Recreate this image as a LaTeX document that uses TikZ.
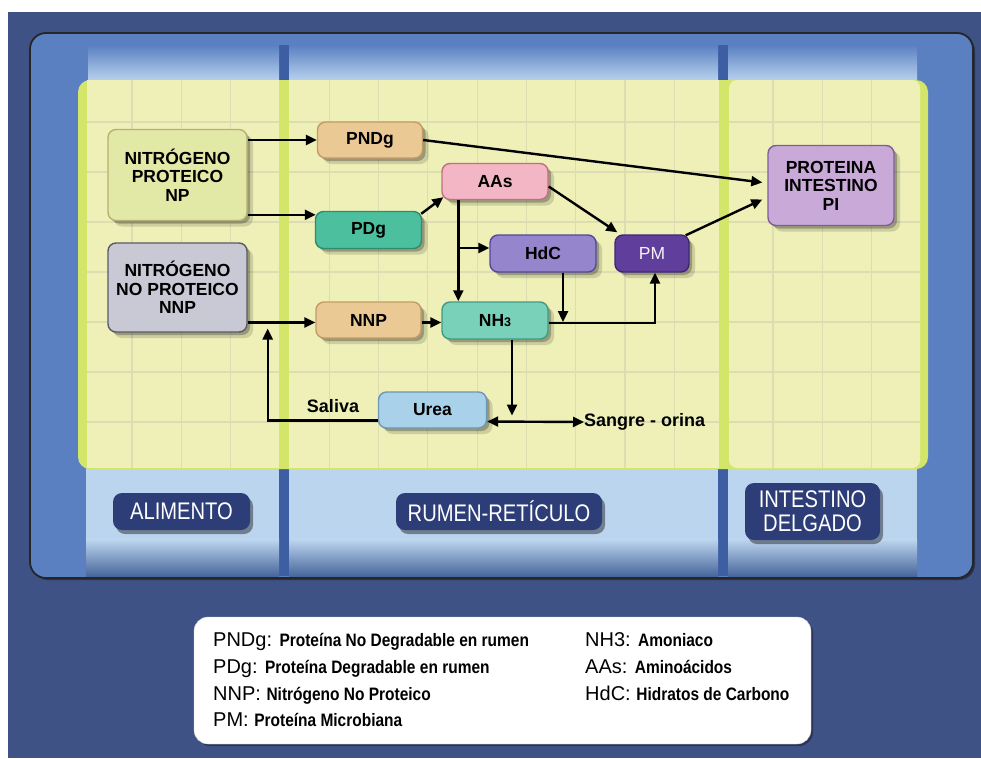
\documentclass[tikz,border=0pt]{standalone}
\usepackage{fontspec}
\setmainfont{Liberation Sans}
\newfontfamily\narrowfont[FakeStretch=0.84]{Liberation Sans}
\newfontfamily\legdesc[FakeStretch=0.86]{Liberation Sans}
\usetikzlibrary{shadows,arrows.meta,calc}
\definecolor{outerblue}{HTML}{3F5286}
\definecolor{panelblue}{HTML}{5A80C2}
\definecolor{gapblue}{HTML}{3E5EA4}
\definecolor{bandlight}{HTML}{BCD5EF}
\definecolor{yellowbg}{HTML}{EEF0B8}
\definecolor{yellowedge}{HTML}{D4E66A}
\definecolor{gridc}{HTML}{DCDEB2}
\definecolor{labelnavy}{HTML}{2D3D78}
\definecolor{npfill}{HTML}{E2E8A6}\definecolor{npdraw}{HTML}{B8B070}
\definecolor{nnpfill}{HTML}{C9C9D6}\definecolor{nnpdraw}{HTML}{5A5A66}
\definecolor{tanfill}{HTML}{EAC995}\definecolor{tandraw}{HTML}{C49A66}
\definecolor{pdgfill}{HTML}{4CBF9E}\definecolor{pdgdraw}{HTML}{2E8C70}
\definecolor{aasfill}{HTML}{F2B6C4}\definecolor{aasdraw}{HTML}{C46E86}
\definecolor{hdcfill}{HTML}{9485CC}\definecolor{hdcdraw}{HTML}{56479A}
\definecolor{pmfill}{HTML}{5F3E9C}\definecolor{pmdraw}{HTML}{3E2676}
\definecolor{pifill}{HTML}{C9A9D8}\definecolor{pidraw}{HTML}{7E5E98}
\definecolor{nhfill}{HTML}{79D1BA}\definecolor{nhdraw}{HTML}{3E9C84}
\definecolor{ureafill}{HTML}{A9D1E9}\definecolor{ureadraw}{HTML}{6E96B6}
\tikzset{
  softshadow/.style={drop shadow={shadow xshift=3pt,shadow yshift=-3pt,opacity=.25,fill=black},
                     drop shadow={shadow xshift=6pt,shadow yshift=-6pt,opacity=.14,fill=black}},
  nbox/.style={rounded corners=8pt,line width=1.4pt,align=center,inner sep=0pt,softshadow,
               font=\bfseries\fontsize{17.5}{18.5}\selectfont,text=black},
  lab/.style={rounded corners=9pt,fill=labelnavy,text=white,align=center,inner sep=0pt,
              drop shadow={shadow xshift=3pt,shadow yshift=-4pt,opacity=.4,fill=black},
              font=\narrowfont\fontsize{24}{24}\selectfont},
  arr/.style={line width=2.4pt,-{Triangle[length=11pt,width=10pt]}},
  arrboth/.style={line width=2.4pt,{Triangle[length=11pt,width=10pt]}-{Triangle[length=11pt,width=10pt]}},
  abbr/.style={anchor=base west,inner sep=0pt,font=\fontsize{20}{20}\selectfont},
  desc/.style={},
  txt/.style={font=\bfseries\fontsize{18}{18}\selectfont,inner sep=0pt}
}
\newcommand\lgd[1]{{\legdesc\bfseries\fontsize{18}{18}\selectfont #1}}
\begin{document}
\begin{tikzpicture}[x=1pt,y=-1pt]
\useasboundingbox (0,0) rectangle (981,758);
\fill[white] (0,0) rectangle (981,758);
\fill[outerblue] (8,12) rectangle (981,758);
% inner panel
\draw[line width=1.8pt,draw=black!85,fill=panelblue,rounded corners=16pt,
  drop shadow={shadow xshift=2pt,shadow yshift=-2pt,opacity=.4,fill=black}] (30,33) rectangle (973,578);
% gaps between bands
\fill[gapblue] (279,45) rectangle (289,576);
\fill[gapblue] (718,45) rectangle (728,576);
% top bands
\shade[top color=panelblue,bottom color=bandlight] (88,45) rectangle (279,82);
\shade[top color=panelblue,bottom color=bandlight] (289,45) rectangle (718,82);
\shade[top color=panelblue,bottom color=bandlight] (728,45) rectangle (917,82);
% bottom bands
\foreach \a/\b in {86/279,289/718,728/917}{
  \fill[bandlight] (\a,466) rectangle (\b,540);
  \shade[top color=bandlight,bottom color=panelblue!80!black] (\a,539.5) rectangle (\b,576);
}
% yellow area
\fill[yellowedge,rounded corners=12pt] (78,80) rectangle (928,469);
\fill[yellowbg] (87,80) rectangle (279,468);
\fill[yellowbg] (289,80) rectangle (719,468);
\fill[yellowbg,rounded corners=8pt] (729,80) rectangle (920,468);
\begin{scope}
\clip (87,80) rectangle (279,468) (289,80) rectangle (719,468) (729,80) rectangle (920,468);
\foreach \i in {0,...,16}{ \draw[gridc,line width=1.2pt] ({132+49.3*\i},80) -- ({132+49.3*\i},468); }
\foreach \j in {0,...,6}{ \draw[gridc,line width=1.2pt] (87,{122+50*\j}) -- (920,{122+50*\j}); }
\end{scope}
% section labels
\node[lab,minimum width=137pt,minimum height=37pt] (alim) at (181.5,511.5) {ALIMENTO};
\node[lab,minimum width=206pt,minimum height=37pt] (rumen) at (499,511.5) {RUMEN-RETÍCULO};
\node[lab,minimum width=135pt,minimum height=57pt] (intes) at (812.5,511.5) {INTESTINO\\DELGADO};
% boxes
\node[nbox,fill=npfill,draw=npdraw,minimum width=139pt,minimum height=91pt] (np) at (177.5,175) {NITRÓGENO\\PROTEICO\\NP};
\node[nbox,fill=nnpfill,draw=nnpdraw,minimum width=139pt,minimum height=89pt] (nnp) at (177.5,287.5) {NITRÓGENO\\NO PROTEICO\\NNP};
\node[nbox,fill=tanfill,draw=tandraw,minimum width=105pt,minimum height=36pt] (pndg) at (370,140) {PNDg};
\node[nbox,fill=pdgfill,draw=pdgdraw,minimum width=106pt,minimum height=37pt] (pdg) at (368.5,230) {PDg};
\node[nbox,fill=aasfill,draw=aasdraw,minimum width=106pt,minimum height=36pt] (aas) at (495,181.5) {AAs};
\node[nbox,fill=hdcfill,draw=hdcdraw,minimum width=106pt,minimum height=37pt] (hdc) at (543,253.5) {HdC};
\node[nbox,fill=pmfill,draw=pmdraw,minimum width=74pt,minimum height=37pt,text=white!85!pifill,
      font=\fontsize{17.5}{18}\selectfont] (pm) at (652,253.5) {PM};
\node[nbox,fill=pifill,draw=pidraw,minimum width=126pt,minimum height=80pt] (pi) at (831,185.5) {PROTEINA\\INTESTINO\\PI};
\node[nbox,fill=tanfill,draw=tandraw,minimum width=105pt,minimum height=36pt] (nnps) at (368.5,320) {NNP};
\node[nbox,fill=nhfill,draw=nhdraw,minimum width=106pt,minimum height=37pt] (nh3) at (495,320.5) {NH\raisebox{-0.5pt}{\fontsize{12.5}{12.5}\selectfont 3}};
\node[nbox,fill=ureafill,draw=ureadraw,minimum width=108pt,minimum height=36pt] (urea) at (432.5,410) {Urea};
\node[txt,anchor=west] (sangre) at (584,422) {Sangre - orina};
\node[txt] (saliva) at (333,406) {Saliva};
% coordinates
\coordinate (pdgin) at ($(pdg.north west)+(1,4)$);
\coordinate (nnpin) at ($(nnps.west)+(0,2.5)$);
\coordinate (v1) at ($(aas.south west)+(17,0)$);
\coordinate (hdcin) at ($(hdc.west)+(0,-5.5)$);
\coordinate (hdcout) at ($(hdc.south)+(20,0)$);
\coordinate (nh3out) at ($(nh3.east)+(0,2.5)$);
\coordinate (pmin) at ($(pm.south)+(3,0)$);
\coordinate (nd) at ($(nh3.south)+(17,0)$);
\coordinate (ue) at ($(urea.east)+(0,11.5)$);
\coordinate (uw) at ($(urea.west)+(0,10.5)$);
\coordinate (sal) at ($(nnp.east |- nnpin)+(20,6)$);
% connectors
\draw[arr] (np.east |- pndg) -- (pndg.west);
\draw[arr] (np.east |- pdgin) -- (pdgin);
\draw[arr] (nnp.east |- nnpin) -- (nnpin);
\draw[arr] (nnps.east |- nnpin) -- (nh3.west |- nnpin);
\draw[arr] (pndg.east) -- ($(pi.west)+(-5,-3)$);
\draw[arr] ($(pdg.north east)+(-1,3)$) -- ($(aas.south west)+(2,-3)$);
\draw[arr] ($(aas.east)+(0,5)$) -- ($(pm.north west)+(3,-2)$);
\draw[arr] ($(pm.north east)+(-4,1)$) -- ($(pi.west)+(-5,14)$);
\draw[arr] (v1) -- (v1 |- nh3.north);
\draw[arr] (v1 |- hdcin) -- (hdcin);
\draw[arr] (hdcout) -- ($(hdcout |- nh3out)+(0,-1)$);
\draw[arr] (nh3out) -| (pmin);
\draw[arr] (nd) -- ($(nd |- ue)+(0,-6)$);
\draw[arrboth] (ue) -- (sangre.west);
\draw[arr] (uw) -| (sal);
% legend
\draw[fill=white,draw=white!80!black,rounded corners=14pt,
  drop shadow={shadow xshift=2pt,shadow yshift=-2pt,opacity=.35,fill=black}] (194,617) rectangle (811,744);
\node[abbr] (l1) at (213,646) {PNDg: \lgd{Proteína No Degradable en rumen}};
\node[abbr] (l2) at (213,673) {PDg: \lgd{Proteína Degradable en rumen}};
\node[abbr] (l3) at (213,700) {NNP: \lgd{Nitrógeno No Proteico}};
\node[abbr] (l4) at (213,726) {PM: \lgd{Proteína Microbiana}};
\node[abbr] (r1) at (585,646) {NH3: \lgd{Amoniaco}};
\node[abbr] (r2) at (585,673) {AAs: \lgd{Aminoácidos}};
\node[abbr] (r3) at (585,700) {HdC: \lgd{Hidratos de Carbono}};
\end{tikzpicture}
\end{document}
